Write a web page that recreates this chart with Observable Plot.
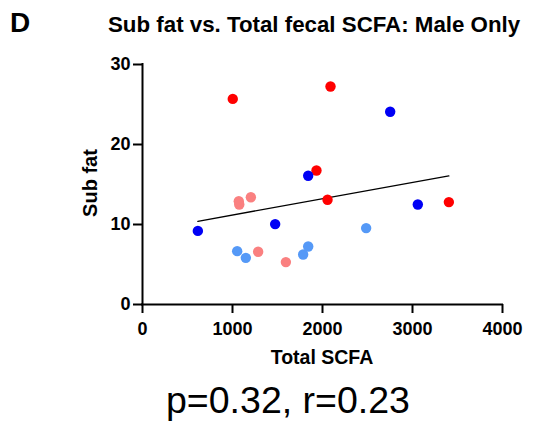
<!DOCTYPE html>
<html><head><meta charset="utf-8">
<script src="https://cdn.jsdelivr.net/npm/d3@7"></script>
<script src="https://cdn.jsdelivr.net/npm/@observablehq/plot@0.6"></script>
<style>
body{margin:0;background:#fff;}
#wrap{position:relative;width:537px;height:421px;overflow:hidden;font-family:"Liberation Sans",Arial,sans-serif;}
.t{position:absolute;white-space:nowrap;line-height:1;color:#000;}
#chart{position:absolute;left:0;top:40px;}
</style></head><body>
<div id="wrap">
<div class="t" style="left:10px;top:9.3px;font-size:28px;font-weight:bold">D</div>
<div class="t" style="left:108px;top:14.1px;font-size:22.3px;font-weight:bold">Sub fat vs. Total fecal SCFA: Male Only</div>
<div id="chart"></div>
<div class="t" id="xlab" style="left:222px;width:200px;text-align:center;top:347.5px;font-size:19.5px;font-weight:bold"></div>
<div class="t" id="ylab" style="left:-9.9px;width:200px;height:20px;text-align:center;top:173px;font-size:20px;font-weight:bold;transform:rotate(-90deg)"></div>
<div class="t" style="left:166px;top:382.3px;font-size:37.5px;">p=0.32, r=0.23</div>
</div>
<script>
// Data
const scfa   = [1003, 2089, 2752, 1933, 1841, 2056, 3059, 3404, 1070, 1075, 1204, 1474, 615, 2485, 1052, 1148, 1285, 1593, 1785, 1841];
const subFat = [25.7, 27.25, 24.1, 16.75, 16.1, 13.1, 12.5, 12.8, 12.9, 12.5, 13.4, 10.05, 9.2, 9.55, 6.67, 5.83, 6.6, 5.3, 6.25, 7.25];
const group  = ["A","A","B","A","B","A","B","A","C","C","C","B","B","D","D","D","C","C","D","D"];
const groups = ["A","B","C","D"];
const groupColors = ["#ff0000","#0000f5","#fa8080","#5599f7"];
const xTicks = [0, 1000, 2000, 3000, 4000];
const yTicks = [0, 10, 20, 30];
const xLabel = "Total SCFA";
const yLabel = "Sub fat";

document.getElementById("xlab").textContent = xLabel;
document.getElementById("ylab").textContent = yLabel;

const rows = scfa.map((x, i) => ({scfa: x, subFat: subFat[i], group: group[i]}));

const chart = Plot.plot({
  width: 537,
  height: 340,
  marginLeft: 142,
  marginRight: 35,
  marginTop: 24,
  marginBottom: 76,
  style: {fontFamily: "Liberation Sans, Arial, sans-serif", fontWeight: "bold", color: "black", background: "white"},
  x: {domain: [0, 4000]},
  y: {domain: [0, 30]},
  color: {domain: groups, range: groupColors},
  marks: [
    Plot.axisX({ticks: xTicks, tickSize: 9, tickPadding: 9, strokeWidth: 2, tickFormat: d => String(d), label: null, fontSize: 18, fontWeight: "bold"}),
    Plot.axisY({ticks: yTicks, tickSize: 9, tickPadding: 3, strokeWidth: 2, tickFormat: d => String(d), label: null, fontSize: 18, fontWeight: "bold"}),
    Plot.ruleY([0], {stroke: "black", strokeWidth: 2, strokeLinecap: "square"}),
    Plot.ruleX([0], {stroke: "black", strokeWidth: 2, strokeLinecap: "square"}),
    Plot.linearRegressionY(rows, {x: "scfa", y: "subFat", ci: 0, stroke: "black", strokeWidth: 1.3}),
    Plot.dot(rows, {x: "scfa", y: "subFat", fill: "group", r: 5.2})
  ]
});
document.getElementById("chart").appendChild(chart);
</script>
</body></html>
